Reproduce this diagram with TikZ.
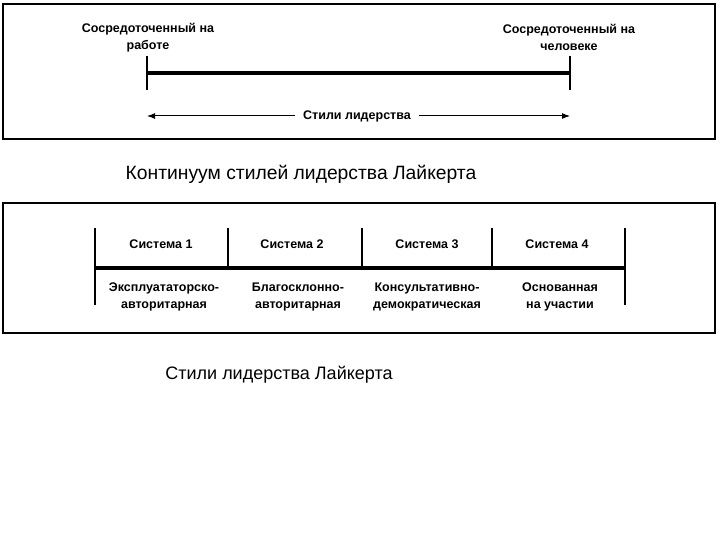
\documentclass[tikz,border=0pt]{standalone}
\usepackage{fontspec}
\setmainfont{Liberation Sans}
\usetikzlibrary{arrows.meta}
\begin{document}
\begin{tikzpicture}[x=1pt,y=-1pt,
  frame/.style={draw=black,line width=1.3pt},
  tick/.style={line width=1.6pt},
  bar/.style={line width=3.6pt},
  lbl/.style={font=\bfseries\fontsize{12.5}{17.5}\selectfont,align=center,inner sep=0pt},
  caption/.style={font=\fontsize{18.7}{22}\selectfont,inner sep=0pt}]
\useasboundingbox (0,0) rectangle (720,540);
% top panel
\draw[frame] (3,4) rectangle (715,139);
\node[lbl] (lt) at (148,37.5) {Сосредоточенный на\\работе};
\node[lbl] (rt) at (569,37.5) {Сосредоточенный на\\человеке};
\coordinate (l1) at (147,56); \coordinate (l2) at (147,90);
\coordinate (r1) at (570,56); \coordinate (r2) at (570,90);
\coordinate (lm) at (147,73); \coordinate (rm) at (570,73);
\draw[tick] (l1) -- (l2);
\draw[tick] (r1) -- (r2);
\draw[bar] (lm) -- (rm);
\node[lbl] (st) at (357,116) {Стили лидерства};
\coordinate (al) at (147,116); \coordinate (ar) at (570,116);
\draw[line width=1pt,-{Latex[length=8pt,width=6pt]}] (st.west) ++(-8,0) -- (al);
\draw[line width=1pt,-{Latex[length=8pt,width=6pt]}] (st.east) ++(8,0) -- (ar);
\node[caption,font=\fontsize{19.3}{22}\selectfont] (c1) at (301,174) {Континуум стилей лидерства Лайкерта};
% bottom panel
\draw[frame] (3,203) rectangle (715,333);
\coordinate (v0t) at (95,228); \coordinate (v0b) at (95,305);
\coordinate (v1t) at (228,228); \coordinate (v1b) at (228,268);
\coordinate (v2t) at (362,228); \coordinate (v2b) at (362,268);
\coordinate (v3t) at (492,228); \coordinate (v3b) at (492,268);
\coordinate (v4t) at (625,228); \coordinate (v4b) at (625,305);
\foreach \v in {v0,v1,v2,v3,v4} {\draw[tick] (\v t) -- (\v b);}
\coordinate (hl) at (95,268); \coordinate (hr) at (625,268);
\draw[bar] (hl) -- (hr);
\node[lbl] (s1) at (161,244) {Система 1};
\node[lbl] (s2) at (292,244) {Система 2};
\node[lbl] (s3) at (427,244) {Система 3};
\node[lbl] (s4) at (557,244) {Система 4};
\node[lbl] (d1) at (164,297) {Эксплуататорско-\\авторитарная};
\node[lbl] (d2) at (298,297) {Благосклонно-\\авторитарная};
\node[lbl] (d3) at (427,297) {Консультативно-\\демократическая};
\node[lbl] (d4) at (560,297) {Основанная\\на участии};
\node[caption,font=\fontsize{18}{22}\selectfont] (c2) at (279,375) {Стили лидерства Лайкерта};
\end{tikzpicture}
\end{document}
